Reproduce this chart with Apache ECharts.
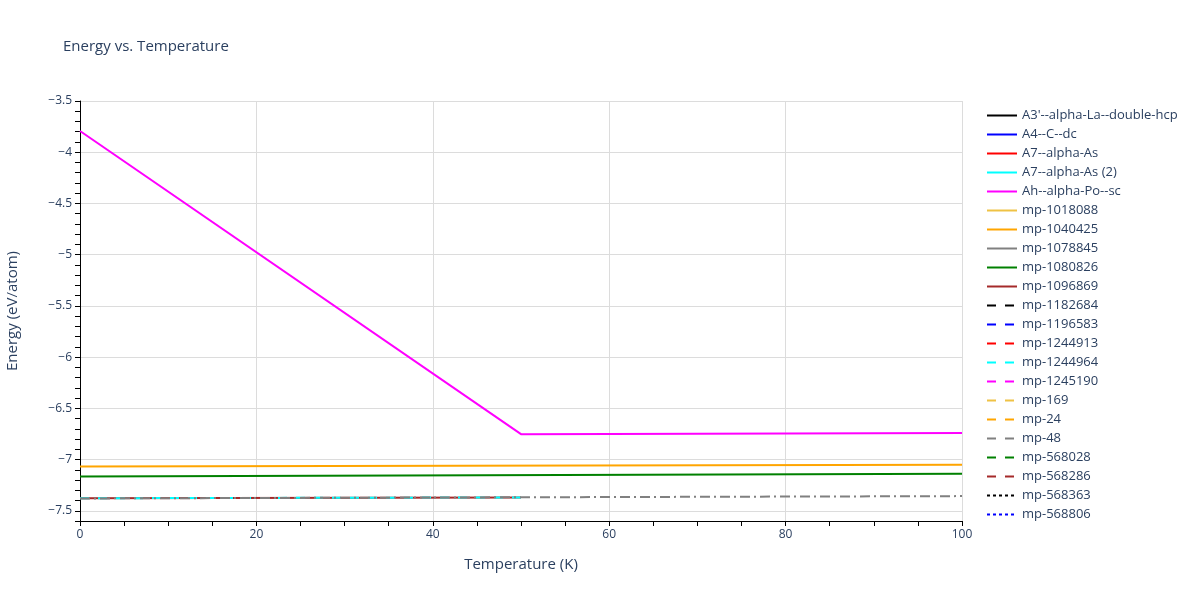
<!DOCTYPE html>
<html>
<head>
<meta charset="utf-8">
<script src="https://cdn.jsdelivr.net/npm/echarts@6/dist/echarts.min.js"></script>
<style>html,body{margin:0;padding:0;background:#fff}#chart{width:1200px;height:600px}</style>
</head>
<body>
<div id="chart"></div>
<script>
// ---- data ----
const seriesNames = ["A3'--alpha-La--double-hcp","A4--C--dc","A7--alpha-As","A7--alpha-As (2)","Ah--alpha-Po--sc",
  "mp-1018088","mp-1040425","mp-1078845","mp-1080826","mp-1096869",
  "mp-1182684","mp-1196583","mp-1244913","mp-1244964","mp-1245190",
  "mp-169","mp-24","mp-48","mp-568028","mp-568286",
  "mp-568363","mp-568806"];
const tempAhPo = [0, 50, 100];
const energyAhPo = [-3.793, -6.752, -6.742];
const tempFull = [0, 100];
const energyMp1040425 = [-7.067, -7.051];
const energyMp1080826 = [-7.165, -7.138];
const tempHalf = [0, 50];
const energyMp1096869 = [-7.378, -7.37];
const energyMp1244964 = [-7.378, -7.37];
const energyDashDot = [-7.380, -7.357];
const xTicks = [0, 20, 40, 60, 80, 100];
const yTickLabels = [-7.5, -7, -6.5, -6, -5.5, -5, -4.5, -4, -3.5];

const palette = ['#000000','#0000ff','#ff0000','#00ffff','#ff00ff','#efc245','#ffa500','#808080','#008000','#a52a2a'];
function dashFor(i){ if(i<10) return 'solid'; if(i<20) return [9,9]; return [3,3]; }
const dataByName = {
  "Ah--alpha-Po--sc": [tempAhPo, energyAhPo],
  "mp-1040425": [tempFull, energyMp1040425],
  "mp-1080826": [tempFull, energyMp1080826],
  "mp-1096869": [tempHalf, energyMp1096869],
  "mp-1244964": [tempHalf, energyMp1244964]
};
function pairs(t, e){ return t.map((v,i)=>[v, e[i]]); }
const series = seriesNames.map((n,i)=>{
  const d = dataByName[n];
  return {
    name: n, type: 'line', symbol: 'none', showSymbol: false,
    data: d ? pairs(d[0], d[1]) : [],
    lineStyle: {color: palette[i%10], width: 2, type: dashFor(i)},
    itemStyle: {color: palette[i%10]},
    emphasis: {disabled: true}, animation: false
  };
});
series.push({
  name: 'extra', type: 'line', symbol: 'none', showSymbol: false, data: pairs(tempFull, energyDashDot),
  lineStyle: {color: '#808080', width: 2, type: [10,4,2,4]}, itemStyle:{color:'#808080'},
  emphasis: {disabled: true}, animation: false
});

const txt = '#2a3f5f';
const font = '"Open Sans", "Noto Sans", sans-serif';
function isMajor(v){ return yTickLabels.some(t => Math.abs(t - v) < 1e-6); }
const option = {
  backgroundColor: '#fff',
  animation: false,
  title: {text: 'Energy vs. Temperature', left: 58, top: 34,
    textStyle: {color: txt, fontSize: 15, fontWeight: 'normal', fontFamily: font}},
  grid: {left: 80, right: 238, top: 101, bottom: 79, outerBoundsMode: 'none', containLabel: false},
  legend: {
    data: seriesNames, orient: 'vertical', left: 981, top: 104,
    itemWidth: 30, itemHeight: 14, itemGap: 6,
    itemStyle: {color: 'rgba(0,0,0,0)', borderColor: 'rgba(0,0,0,0)', borderWidth: 0},
    textStyle: {color: txt, fontSize: 13, fontFamily: font}
  },
  xAxis: {
    type: 'value', min: 0, max: 100, interval: 20,
    name: 'Temperature (K)', nameLocation: 'middle', nameGap: 36,
    nameTextStyle: {color: txt, fontSize: 15, fontFamily: font},
    axisLine: {show: true, onZero: false, lineStyle: {color: '#000', width: 1}},
    axisTick: {show: true, length: 5, lineStyle: {color: '#000'}},
    minorTick: {show: true, splitNumber: 4, length: 5, lineStyle: {color: '#000'}},
    axisLabel: {color: txt, fontSize: 12, fontFamily: font, margin: 8,
      formatter: v => xTicks.includes(v) ? String(v) : ''},
    splitLine: {show: true, lineStyle: {color: '#dcdcdc', width: 1}}
  },
  yAxis: {
    type: 'value', min: -7.6, max: -3.5, interval: 0.1,
    name: 'Energy (eV/atom)', nameLocation: 'middle', nameGap: 60,
    nameTextStyle: {color: txt, fontSize: 15, fontFamily: font},
    axisLine: {show: true, onZero: false, lineStyle: {color: '#000', width: 1}},
    axisTick: {show: true, length: 5, lineStyle: {color: '#000'}},
    axisLabel: {color: txt, fontSize: 12, fontFamily: font, margin: 8, showMinLabel: true, showMaxLabel: true,
      formatter: v => isMajor(v) ? String(Math.round(v*10)/10).replace('-', '\u2212') : ''},
    splitLine: {show: true, lineStyle: {color: ['rgba(0,0,0,0)', '#dcdcdc', 'rgba(0,0,0,0)', 'rgba(0,0,0,0)', 'rgba(0,0,0,0)'], width: 1}}
  },
  series: series
};
const chart = echarts.init(document.getElementById('chart'), null, {renderer: 'canvas'});
chart.setOption(option);
</script>
</body>
</html>
